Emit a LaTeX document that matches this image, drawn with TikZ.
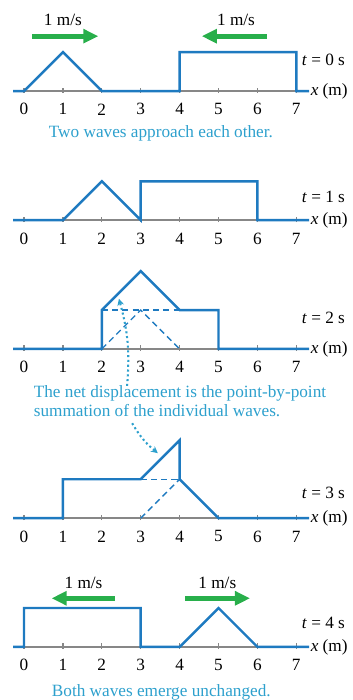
\documentclass[tikz,border=0pt]{standalone}
\usepackage{fontspec}
\setmainfont{Liberation Serif}
\usetikzlibrary{arrows.meta,positioning}
\definecolor{wavecol}{RGB}{30,122,192}
\definecolor{notecol}{RGB}{45,160,205}
\definecolor{arrcol}{RGB}{40,175,75}
\definecolor{axiscol}{RGB}{135,135,135}

\begin{document}
\begin{tikzpicture}
	\tikzstyle{every node}=[font=\fontsize{12.6}{13.4}\selectfont]
	\tikzstyle{axis}=[line width=1pt, axiscol]
	\tikzstyle{wave}=[line width=1.8pt, wavecol, line join=miter]
	\tikzstyle{part}=[line width=1pt, wavecol, dash pattern=on 4.5pt off 3pt]
	\tikzstyle{speed}=[line width=3.6pt, arrcol, -{Triangle[length=11pt,width=10pt]}]
	\tikzstyle{note}=[text=notecol, align=left]
	\tikzstyle{hint}=[line width=1.5pt, notecol, dotted, -{Stealth[length=5pt,width=5pt]}]
	\tikzstyle{lbl}=[inner sep=1pt, anchor=west]
	\useasboundingbox (-0.617,-17.995) rectangle (8.432,0);
	\foreach \i/\yy/\toff in {0/-2.34/0.8, 1/-5.66/0.6, 2/-8.97/0.8, 3/-13.32/0.64, 4/-16.63/0.62} {
		\begin{scope}[yshift=\yy cm]
			\draw [axis] (-0.28,0) -- (7.33,0);
			\foreach \k in {0,...,7} {
				\draw [axis] (\k,-0.05) -- (\k,0.09);
				\node (n\i-\k) at (\k,-0.47) {\k};
			}
			\node [lbl] (x\i) at (7.33,0) {\textit{x} (m)};
			\node [lbl] (t\i) at (7.1,\toff) {\textit{t} = \i\ s};
		\end{scope}
	}
	% t = 0 s
	\begin{scope}[yshift=-2.34cm]
		\draw [wave] (-0.28,0) -- (0,0) -- (1,1) -- (2,0) -- (4,0) -- (4,1) -- (7,1) -- (7,0) -- (7.33,0);
		\coordinate (r0a) at (0.2,1.41);
		\coordinate (r0b) at (1.91,1.41);
		\coordinate (l0a) at (6.24,1.41);
		\coordinate (l0b) at (4.57,1.41);
		\draw [speed] (r0a) -- (r0b);
		\draw [speed] (l0a) -- (l0b);
		\node (v0a) at (1,1.83) {1 m/s};
		\node (v0b) at (5.45,1.83) {1 m/s};
		\node [note] (cap0) at (3.52,-1.08) {Two waves approach each other.};
	\end{scope}
	% t = 1 s
	\begin{scope}[yshift=-5.66cm]
		\draw [wave] (-0.28,0) -- (1,0) -- (2,1) -- (3,0) -- (3,1) -- (6,1) -- (6,0) -- (7.33,0);
	\end{scope}
	% t = 2 s
	\begin{scope}[yshift=-8.97cm]
		\draw [part] (2,1) -- (4,1);
		\draw [part] (2,0) -- (3,1) -- (4,0);
		\draw [wave] (-0.28,0) -- (2,0) -- (2,1) -- (3,2) -- (4,1) -- (5,1) -- (5,0) -- (7.33,0);
		\node [note] (net) at (4.01,-1.34) {The net displacement is the point-by-point\\summation of the individual waves.};
		\coordinate (up0) at (2.65,-0.95);
		\coordinate (up1) at (2.44,1.29);
	\end{scope}
	% t = 3 s
	\begin{scope}[yshift=-13.32cm]
		\draw [part] (3,1) -- (4,1);
		\draw [part] (3,0) -- (4,1);
		\draw [wave] (-0.28,0) -- (1,0) -- (1,1) -- (3,1) -- (4,2) -- (4,1) -- (5,0) -- (7.33,0);
		\coordinate (dn0) at (2.78,2.44);
		\coordinate (dn1) at (3.44,1.67);
	\end{scope}
	% t = 4 s
	\begin{scope}[yshift=-16.63cm]
		\draw [wave] (-0.28,0) -- (0,0) -- (0,1) -- (3,1) -- (3,0) -- (4,0) -- (5,1) -- (6,0) -- (7.33,0);
		\coordinate (l4a) at (2.34,1.25);
		\coordinate (l4b) at (0.71,1.25);
		\coordinate (r4a) at (4.14,1.25);
		\coordinate (r4b) at (5.81,1.25);
		\draw [speed] (l4a) -- (l4b);
		\draw [speed] (r4a) -- (r4b);
		\node (v4a) at (1.53,1.65) {1 m/s};
		\node (v4b) at (4.97,1.65) {1 m/s};
		\node [note] (cap4) at (3.53,-1.16) {Both waves emerge unchanged.};
	\end{scope}
	\draw [hint] (up0) to [bend right=10] (up1);
	\draw [hint] (dn0) to [bend right=10] (dn1);
\end{tikzpicture}
\end{document}
